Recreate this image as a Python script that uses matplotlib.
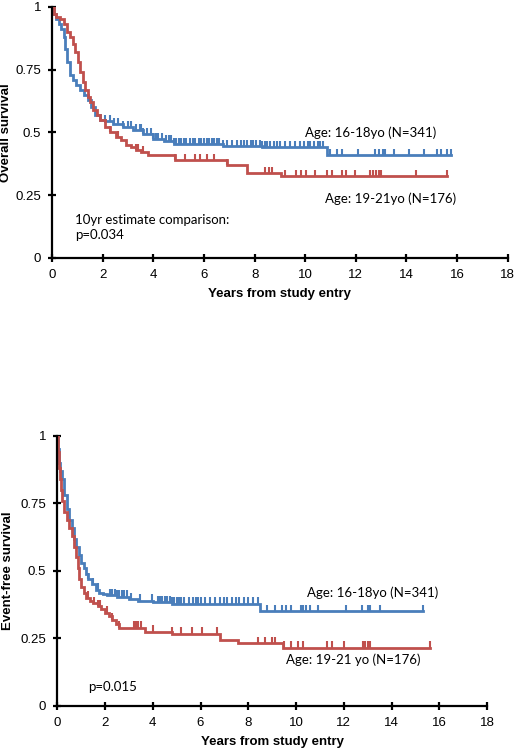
import numpy as np
import matplotlib
matplotlib.use("Agg")
import matplotlib.pyplot as plt

# barvy (excel styl)
BLUE = "#4a7ebb"
RED = "#c0504d"

# --- Overall survival, 16-18 let ---
os_young_t = [0, 0.08, 0.15, 0.25, 0.35, 0.45, 0.52, 0.6, 0.7, 0.8, 0.95, 1.1,
              1.25, 1.4, 1.55, 1.7, 1.9, 2.1, 2.4, 2.8, 3.2, 3.6, 4.0, 4.4,
              4.8, 6.75, 8.3, 10.85]
os_young_s = [1, 0.97, 0.95, 0.93, 0.91, 0.88, 0.83, 0.78, 0.73, 0.71, 0.69,
              0.67, 0.65, 0.63, 0.60, 0.57, 0.55, 0.545, 0.535, 0.52, 0.51,
              0.495, 0.475, 0.465, 0.455, 0.445, 0.44, 0.41]
os_young_end = 15.75
os_young_cens = [2.1, 2.3, 2.45, 2.6, 2.8, 3.0, 3.1, 3.3, 3.45, 3.5, 3.6, 3.75,
                 3.9, 4.0, 4.1, 4.2, 4.35, 4.5, 4.6, 4.7, 4.8, 4.9, 5.0, 5.1,
                 5.2, 5.3, 5.45, 5.55, 5.65, 5.8, 5.9, 6.0, 6.1, 6.2, 6.3, 6.4,
                 6.5, 6.6, 6.75, 6.9, 7.1, 7.3, 7.45, 7.6, 7.7, 7.85, 7.95,
                 8.05, 8.2, 8.3, 8.4, 8.5, 8.6, 8.75, 8.9, 9.0, 9.2, 9.4, 9.6,
                 9.8, 9.95, 10.1, 10.2, 10.35, 10.5, 10.6, 10.7, 11.0, 11.25,
                 11.45, 12.08, 12.75, 12.9, 13.07, 13.15, 13.5, 14.1, 14.7,
                 15.2, 15.35, 15.6, 15.75]

# --- Overall survival, 19-21 let ---
os_old_t = [0, 0.05, 0.15, 0.3, 0.45, 0.6, 0.7, 0.8, 0.9, 1.0, 1.1, 1.2, 1.3,
            1.4, 1.5, 1.6, 1.75, 1.9, 2.1, 2.3, 2.5, 2.7, 2.9, 3.1, 3.3, 3.5,
            3.8, 4.85, 6.9, 7.7, 9.05]
os_old_s = [1, 0.97, 0.96, 0.95, 0.93, 0.90, 0.88, 0.85, 0.82, 0.78, 0.74,
            0.70, 0.67, 0.64, 0.62, 0.59, 0.57, 0.55, 0.52, 0.50, 0.48, 0.47,
            0.45, 0.44, 0.43, 0.42, 0.41, 0.39, 0.37, 0.34, 0.327]
os_old_end = 15.6
os_old_cens = [2.3, 2.6, 3.3, 3.4, 3.6, 4.85, 5.25, 5.65, 5.85, 6.1, 6.4, 6.9,
               8.4, 8.55, 8.7, 9.2, 9.65, 9.85, 10.05, 10.4, 10.85, 11.05,
               11.45, 11.6, 11.96, 12.55, 12.7, 12.8, 12.9, 13.0, 14.4, 15.6]

# --- Event-free survival, 16-18 let ---
efs_young_t = [0, 0.03, 0.07, 0.12, 0.2, 0.3, 0.4, 0.5, 0.6, 0.7, 0.8, 0.9,
               1.0, 1.1, 1.2, 1.3, 1.45, 1.6, 1.75, 1.9, 2.1, 2.5, 3.0, 3.4,
               4.0, 4.8, 8.5]
efs_young_s = [1, 0.95, 0.90, 0.87, 0.84, 0.78, 0.73, 0.69, 0.66, 0.62, 0.59,
               0.56, 0.53, 0.51, 0.49, 0.47, 0.45, 0.43, 0.42, 0.415, 0.41,
               0.405, 0.395, 0.39, 0.385, 0.378, 0.35]
efs_young_end = 15.3
efs_young_cens = [1.3, 1.5, 1.7, 2.2, 2.3, 2.4, 2.5, 2.6, 2.7, 2.8, 2.9, 3.1,
                  3.45, 3.97, 4.2, 4.3, 4.4, 4.5, 4.6, 4.7, 4.8, 4.9, 5.0,
                  5.1, 5.2, 5.3, 5.5, 5.7, 5.8, 5.9, 6.0, 6.2, 6.4, 6.6, 6.8,
                  7.0, 7.1, 7.3, 7.5, 7.6, 7.8, 8.0, 8.2, 8.4, 8.8, 9.1, 9.4,
                  9.6, 9.8, 10.2, 10.3, 10.4, 10.6, 10.9, 12.1, 12.75, 13.0,
                  13.1, 13.5, 15.3]

# --- Event-free survival, 19-21 let ---
efs_old_t = [0, 0.03, 0.06, 0.1, 0.15, 0.2, 0.3, 0.4, 0.5, 0.6, 0.7, 0.78,
             0.85, 0.92, 1.0, 1.1, 1.2, 1.35, 1.5, 1.7, 1.85, 2.0, 2.15, 2.3,
             2.45, 2.6, 3.67, 4.8, 6.8, 7.57, 9.45]
efs_old_s = [1, 0.94, 0.88, 0.84, 0.80, 0.76, 0.72, 0.69, 0.66, 0.63, 0.59,
             0.55, 0.51, 0.47, 0.44, 0.42, 0.40, 0.39, 0.38, 0.37, 0.36,
             0.345, 0.335, 0.32, 0.305, 0.29, 0.275, 0.267, 0.244, 0.233,
             0.215]
efs_old_end = 15.6
efs_old_cens = [1.3, 1.55, 1.7, 1.8, 2.1, 2.3, 2.6, 3.2, 3.3, 3.4, 3.5, 4.0,
                4.8, 5.2, 5.65, 6.05, 6.7, 8.4, 8.7, 9.0, 9.1, 9.5, 9.8, 10.1,
                10.3, 11.3, 11.5, 12.0, 12.8, 12.9, 13.0, 13.1, 15.6]

x_ticks = [0, 2, 4, 6, 8, 10, 12, 14, 16, 18]
y_ticks = [0, 0.25, 0.5, 0.75, 1]
y_tick_labels = ["0", "0.25", "0.5", "0.75", "1"]

NOTE_FONT = ["Lato", "DejaVu Sans"]
AXIS_FONT = ["Liberation Sans", "DejaVu Sans"]


def km_curve(ax, t, s, t_end, cens, color):
    """Vykresli schodovou KM krivku s ciarkami pre cenzurovane data."""
    t = np.asarray(t, dtype=float)
    s = np.asarray(s, dtype=float)
    ax.step(np.append(t, t_end), np.append(s, s[-1]), where="post",
            color=color, lw=2.0, solid_joinstyle="miter")
    # hodnota krivky v case cenzury
    c = np.asarray(cens, dtype=float)
    idx = np.searchsorted(t, c, side="right") - 1
    ax.vlines(c, s[idx], s[idx] + 0.024, color=color, lw=1.5)


def style_axes(ax, ylabel, ylab_x):
    ax.set_xlim(0, 18)
    ax.set_ylim(0, 1)
    ax.set_xticks(x_ticks)
    ax.set_yticks(y_ticks)
    ax.set_yticklabels(y_tick_labels)
    for side in ["top", "right"]:
        ax.spines[side].set_visible(False)
    for side in ["left", "bottom"]:
        ax.spines[side].set_linewidth(1.6)
    ax.tick_params(direction="inout", length=6, width=1.6, labelsize=9.5,
                   pad=5)
    for lab in ax.get_xticklabels() + ax.get_yticklabels():
        lab.set_family(AXIS_FONT)
    ax.set_xlabel("Years from study entry", fontsize=9.5, fontweight="bold",
                  family=AXIS_FONT, labelpad=5)
    ax.set_ylabel(ylabel, fontsize=9.5, fontweight="bold", family=AXIS_FONT)
    # popis osi y blizko okraja obrazku
    ax.yaxis.set_label_coords(ylab_x, 0.5)


fig = plt.figure(figsize=(5.15, 7.5), dpi=100)

# horny graf - celkove prezitie
ax1 = fig.add_axes([0.1015, 0.656, 0.884, 0.335])
km_curve(ax1, os_young_t, os_young_s, os_young_end, os_young_cens, BLUE)
km_curve(ax1, os_old_t, os_old_s, os_old_end, os_old_cens, RED)
style_axes(ax1, "Overall survival", -0.088)
ax1.text(10.0, 0.497, "Age: 16-18yo (N=341)", fontsize=9.5, family=NOTE_FONT,
         va="center")
ax1.text(10.8, 0.235, "Age: 19-21yo (N=176)", fontsize=9.5, family=NOTE_FONT,
         va="center")
ax1.text(0.9, 0.15, "10yr estimate comparison:", fontsize=9.5,
         family=NOTE_FONT, va="center")
ax1.text(0.9, 0.09, "p=0.034", fontsize=9.5, family=NOTE_FONT, va="center")

# dolny graf - prezitie bez udalosti
ax2 = fig.add_axes([0.1113, 0.0587, 0.8343, 0.36])
km_curve(ax2, efs_young_t, efs_young_s, efs_young_end, efs_young_cens, BLUE)
km_curve(ax2, efs_old_t, efs_old_s, efs_old_end, efs_old_cens, RED)
style_axes(ax2, "Event-free survival", -0.1)
ax2.text(10.45, 0.42, "Age: 16-18yo (N=341)", fontsize=9.5, family=NOTE_FONT,
         va="center")
ax2.text(9.6, 0.17, "Age: 19-21 yo (N=176)", fontsize=9.5, family=NOTE_FONT,
         va="center")
ax2.text(1.3, 0.07, "p=0.015", fontsize=9.5, family=NOTE_FONT, va="center")

fig.savefig("out.png", dpi=100)
